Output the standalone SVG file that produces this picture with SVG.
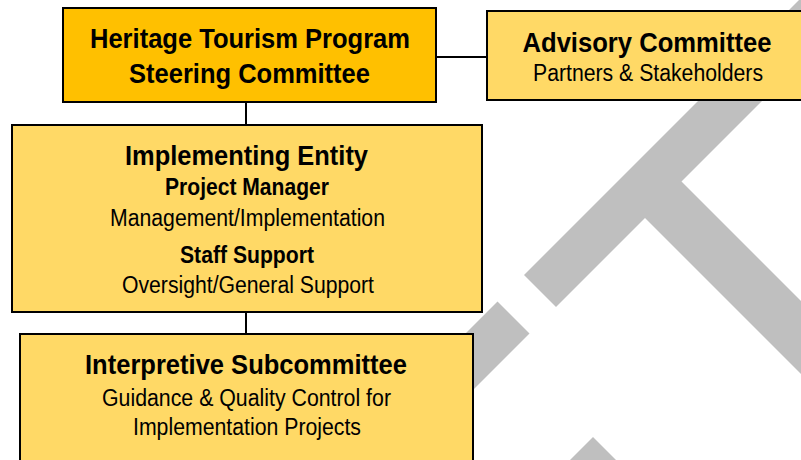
<svg xmlns="http://www.w3.org/2000/svg" width="801" height="460" viewBox="0 0 801 460">
<style>
.bg{fill:#BFBFBF}
.box{stroke:#000;stroke-width:2}
.gold{fill:#FFC000}
.light{fill:#FFD966}
.conn{stroke:#000;stroke-width:2;fill:none}
text{font-family:"Liberation Sans Narrow","Liberation Sans",Arial,sans-serif;fill:#000;text-anchor:middle}
.t{font-weight:bold;font-size:28.5px}
.s{font-weight:bold;font-size:23px}
.r{font-size:23.5px}
</style>
<rect width="801" height="460" fill="#fff"/>
<g id="watermark">
<polygon class="bg" points="524,275 899.5,-100.5 931.5,-68.5 556,307"/>
<polygon class="bg" points="665,165 950,450 913.5,486.5 628.5,201.5"/>
<polygon class="bg" points="497.5,301.5 529.5,333.5 331.5,531.5 299.5,499.5"/>
<polygon class="bg" points="593,437 625,469 425,669 393,637"/>
</g>
<g id="connectors">
<line class="conn" x1="436" y1="57" x2="487" y2="57"/>
<line class="conn" x1="246" y1="102" x2="246" y2="125"/>
<line class="conn" x1="246" y1="312" x2="246" y2="334"/>
</g>
<g id="steering">
<rect class="box gold" x="63" y="8" width="373" height="94"/>
<text class="t" x="250" y="48" textLength="320" lengthAdjust="spacingAndGlyphs">Heritage Tourism Program</text>
<text class="t" x="249.5" y="83" textLength="241" lengthAdjust="spacingAndGlyphs">Steering Committee</text>
</g>
<g id="advisory">
<rect class="box light" x="487" y="11" width="330" height="89"/>
<text class="t" x="647" y="52" textLength="249" lengthAdjust="spacingAndGlyphs">Advisory Committee</text>
<text class="r" x="648" y="81" textLength="230" lengthAdjust="spacingAndGlyphs">Partners &amp; Stakeholders</text>
</g>
<g id="implementing">
<rect class="box light" x="12" y="125" width="470" height="187"/>
<text class="t" x="246.5" y="165" textLength="243" lengthAdjust="spacingAndGlyphs">Implementing Entity</text>
<text class="s" x="247" y="195" textLength="164" lengthAdjust="spacingAndGlyphs">Project Manager</text>
<text class="r" x="247.5" y="226" textLength="275" lengthAdjust="spacingAndGlyphs">Management/Implementation</text>
<text class="s" x="247" y="263" textLength="134" lengthAdjust="spacingAndGlyphs">Staff Support</text>
<text class="r" x="248" y="293" textLength="252" lengthAdjust="spacingAndGlyphs">Oversight/General Support</text>
</g>
<g id="interpretive">
<rect class="box light" x="20" y="334" width="453" height="140"/>
<text class="t" x="246" y="374" textLength="322" lengthAdjust="spacingAndGlyphs">Interpretive Subcommittee</text>
<text class="r" x="246.5" y="406" textLength="289" lengthAdjust="spacingAndGlyphs">Guidance &amp; Quality Control for</text>
<text class="r" x="247" y="435" textLength="228" lengthAdjust="spacingAndGlyphs">Implementation Projects</text>
</g>
</svg>
